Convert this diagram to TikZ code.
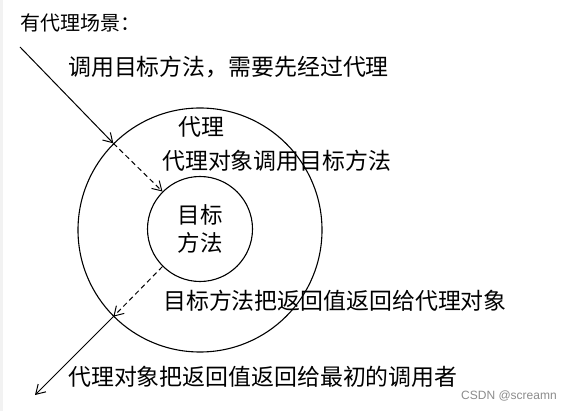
\documentclass[tikz,border=0pt]{standalone}
\usepackage{fontspec}
\setmainfont{Noto Sans CJK SC}
\newfontfamily\wmfont{Liberation Sans}
\usetikzlibrary{arrows.meta}
\begin{document}
\begin{tikzpicture}[x=1pt,y=-1pt,
  ring/.style={draw, circle, line width=1.1pt, inner sep=0pt},
  lbl/.style={anchor=west, inner sep=0pt, font=\fontsize{22.9}{26}\selectfont},
  arr/.style={line width=1pt, -{Straight Barb[length=9pt,width=11pt,line width=1pt]}},
  darr/.style={arr, dashed, dash pattern=on 5pt off 3.5pt}]
\useasboundingbox (0,0) rectangle (572,411);
\fill[white] (0,0) rectangle (572,411);
\fill[black!5] (0,0) rectangle (3,411);
% circles
\node[ring, minimum size=244pt] (outer) at (200,230) {};
\node[ring, minimum size=105pt, align=center, font=\fontsize{22.5}{28}\selectfont] (inner) at (200,229) {目标\\方法};
% connectors
\coordinate (start) at (20,47);
\coordinate (finish) at (35,395);
\draw[arr] (start) -- (outer.135);
\draw[darr] (outer.135) -- (inner.135);
\draw[darr] (inner.225) -- (outer.225);
\draw[arr] (outer.225) -- (finish);
% texts
\node[anchor=west, inner sep=0pt, font=\fontsize{20}{22}\selectfont] (title) at (20,23) {有代理场景：};
\node[lbl] (t1) at (68,67) {调用目标方法，需要先经过代理};
\node[lbl] (t2) at (178,127) {代理};
\node[lbl] (t3) at (162,161) {代理对象调用目标方法};
\node[lbl] (t4) at (163,301) {目标方法把返回值返回给代理对象};
\node[lbl] (t5) at (68,377) {代理对象把返回值返回给最初的调用者};
\node[anchor=west, inner sep=0pt, text=black!45, font=\wmfont\fontsize{12}{14}\selectfont] (wm) at (461,396) {CSDN @screamn};
\end{tikzpicture}
\end{document}
